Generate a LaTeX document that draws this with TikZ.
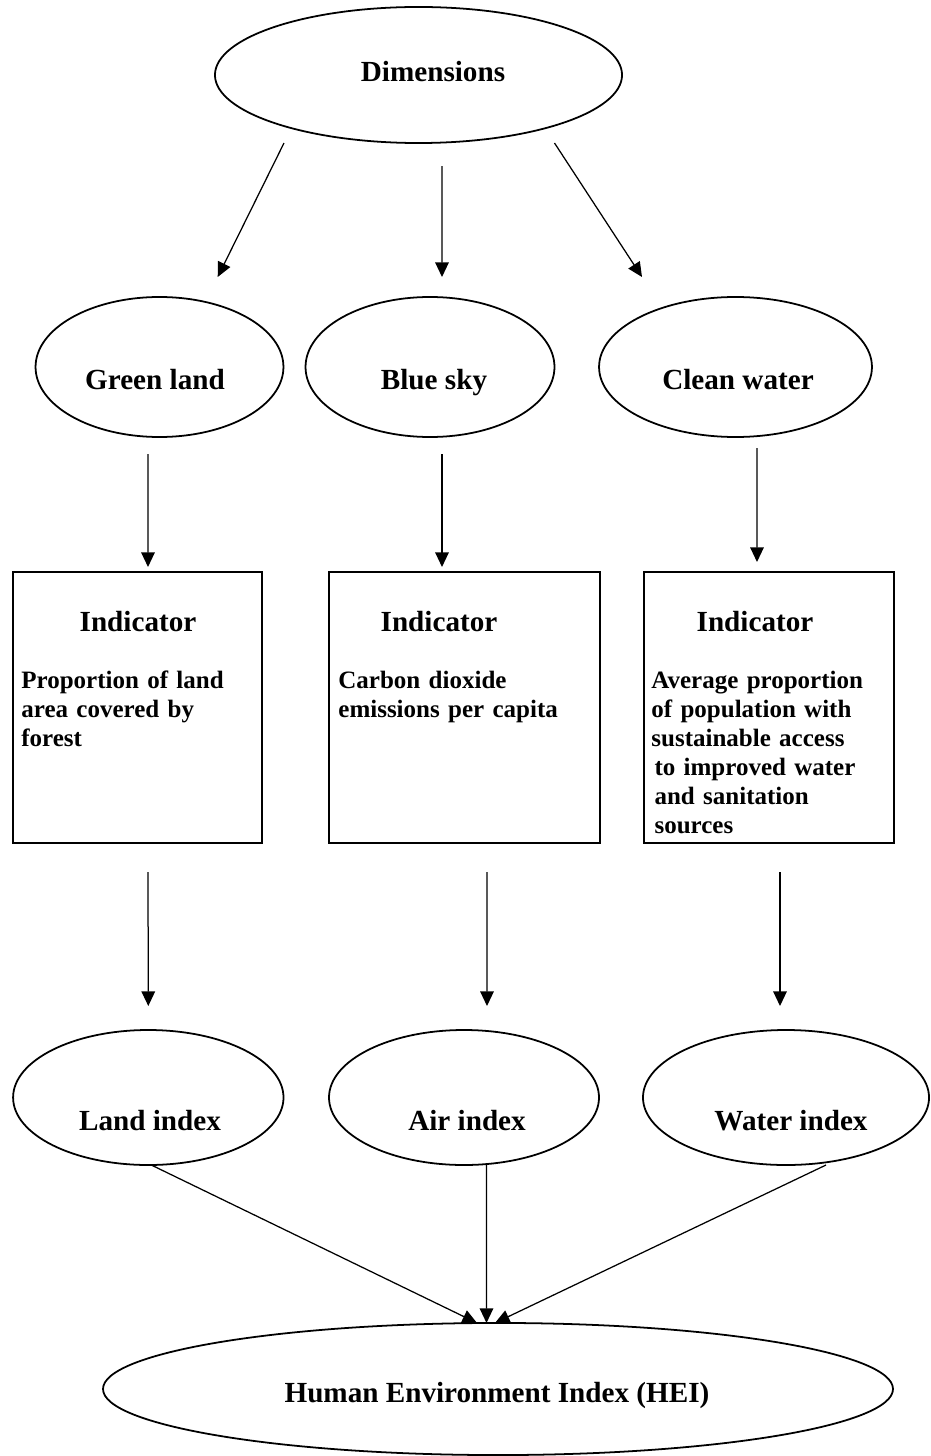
\documentclass[tikz,border=0pt]{standalone}
\usepackage{fontspec}
\setmainfont{Liberation Serif}
\usetikzlibrary{shapes.geometric,arrows.meta,calc}
\tikzset{
  oval/.style={ellipse,draw,line width=.85pt,inner sep=0pt,outer sep=0pt},
  ibox/.style={rectangle,draw,line width=1pt,inner sep=0pt,outer sep=0pt},
  lbl/.style={font=\fontsize{14}{17}\selectfont\bfseries,inner sep=0pt,anchor=base},
  body/.style={font=\fontsize{12}{14}\selectfont\bfseries,inner sep=0pt,
    anchor=base west,align=left,text width=118pt},
  arr/.style={-{Triangle[length=7pt,width=6.5pt]},line width=.6pt}}

\begin{document}
\begin{tikzpicture}[x=0.48pt,y=-0.48pt]
  \useasboundingbox (0,0) rectangle (930,1456);
  % top
  \node[oval,minimum width=195.4pt,minimum height=65.3pt] (dim) at (418.5,75) {};
  \node[lbl] (dimtxt) at (433,82) {Dimensions};
  % dimensions
  \node[oval,minimum width=119pt,minimum height=67.2pt]   (green) at (159.5,367) {};
  \node[oval,minimum width=119.5pt,minimum height=67.2pt] (blue)  at (430,367) {};
  \node[oval,minimum width=131pt,minimum height=67.2pt]   (clean) at (735.5,367) {};
  \node[lbl] (greentxt) at (155,390) {Green land};
  \node[lbl] (bluetxt)  at (434,390) {Blue sky};
  \node[lbl] (cleantxt) at (738,390) {Clean water};
  % indicators
  \node[ibox,minimum width=119.3pt,minimum height=130.1pt] (ind1) at (137.3,707.5) {};
  \node[ibox,minimum width=129.9pt,minimum height=130.1pt] (ind2) at (464.3,707.5) {};
  \node[ibox,minimum width=120pt,minimum height=130.1pt]   (ind3) at (769,707.5) {};
  \node[lbl] (ind1ttl) at (138,631) {Indicator};
  \node[lbl] (ind2ttl) at (439,631) {Indicator};
  \node[lbl] (ind3ttl) at (755,631) {Indicator};
  \node[body] (ind1txt) at (21,688) {Proportion of land\\area covered by\\forest};
  \node[body] (ind2txt) at (338,688) {Carbon dioxide\\emissions per capita};
  \node[body] (ind3txt) at (651,688) {Average proportion\\of population with\\sustainable access\\
    \hspace*{1.5pt}to improved water\\\hspace*{1.5pt}and sanitation\\\hspace*{1.5pt}sources};
  % indices
  \node[oval,minimum width=129.8pt,minimum height=64.8pt] (land)  at (148.3,1097.5) {};
  \node[oval,minimum width=129.6pt,minimum height=64.8pt] (air)   at (464,1097.5) {};
  \node[oval,minimum width=137.3pt,minimum height=64.8pt] (water) at (786,1097.5) {};
  \node[lbl] (landtxt)  at (150,1130) {Land index};
  \node[lbl] (airtxt)   at (467,1130) {Air index};
  \node[lbl] (watertxt) at (791,1130) {Water index};
  % result
  \node[oval,minimum width=379.2pt,minimum height=63.4pt] (hei) at (498,1389) {};
  \node[lbl] (heitxt) at (497,1402) {Human Environment Index (HEI)};
  % arrows
  \draw[arr] ($(dim.south)+(-134.5,0)$) -- ($(green.north)+(58.2,-20)$);
  \draw[arr] ($(dim.south)+(23.5,23)$)  -- ($(blue.north)+(12,-20)$);
  \draw[arr] ($(dim.south)+(136,0)$)    -- ($(clean.north)+(-93.5,-20)$);
  \draw[arr] ($(green.south)+(-11.5,17)$) -- ($(ind1.north)+(10.7,-5)$);
  \draw[arr] ($(blue.south)+(12,17)$)     -- ($(ind2.north)+(-22.3,-5)$);
  \draw[arr] ($(clean.south)+(21.5,11)$)  -- ($(ind3.north)+(-12,-10)$);
  \draw[arr] ($(ind1.south)+(10.7,29)$) -- ($(land.north)+(0,-24)$);
  \draw[arr] ($(ind2.south)+(22.7,29)$) -- ($(air.north)+(23,-24)$);
  \draw[arr] ($(ind3.south)+(11,29)$)   -- ($(water.north)+(-6,-24)$);
  \draw[arr] ($(land.south)+(3,0)$)     -- ($(hei.north)+(-21,0)$);
  \draw[arr] ($(air.south)+(22.5,0)$)   -- ($(hei.north)+(-11.5,0)$);
  \draw[arr] ($(water.south)+(40,0)$)   -- ($(hei.north)+(-3,0)$);
\end{tikzpicture}
\end{document}
